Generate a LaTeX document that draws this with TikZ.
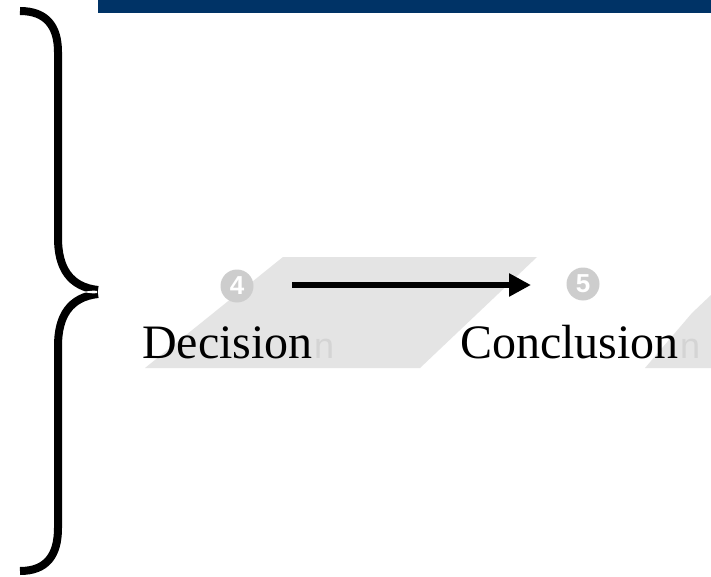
\documentclass[tikz,border=0pt]{standalone}
\usepackage{fontspec}
\setmainfont{Liberation Serif}
\newfontfamily\ghostfont{Liberation Sans}
\usetikzlibrary{arrows.meta}
\definecolor{bannerblue}{RGB}{0,51,102}
\definecolor{bandgray}{RGB}{228,228,228}
\definecolor{circgray}{RGB}{205,205,205}
\definecolor{ghostgray}{RGB}{212,212,212}
\tikzset{
  bigtext/.style={font=\fontsize{48}{56}\selectfont, inner sep=0pt, anchor=base west},
  numcirc/.style={circle, fill=circgray, minimum size=33pt, inner sep=0pt, text=white, font=\ghostfont\bfseries\fontsize{26}{26}\selectfont},
  ghost/.style={font=\ghostfont\fontsize{36}{40}\selectfont, text=ghostgray, inner sep=0pt, anchor=base west},
  bracestroke/.style={line width=8pt, line cap=butt},
  flowarrow/.style={line width=6.5pt, -{Triangle[length=22pt,width=22pt]}}
}
\begin{document}
\begin{tikzpicture}[x=1pt,y=-1pt]
\useasboundingbox (0,0) rectangle (711,577);
\fill[white] (0,0) rectangle (711,577);
% banner
\fill[bannerblue] (98,0) rectangle (711,13);
% background bands
\fill[bandgray] (145,368) -- (283,257) -- (537,257) -- (420,368) -- cycle;
\fill[bandgray] (711,295) -- (711,368) -- (645,368) -- (692,313) -- cycle;
% numbered circles
\node[numcirc] (c4) at (237,286) {4};
\node[numcirc] (c5) at (583,284) {5};
% ghost letters
\node[ghost] (g1) at (314,358) {n};
\node[ghost] (g2) at (680,358) {n};
% labels
\node[bigtext] (dec) at (142,358) {Decision};
\node[bigtext] (con) at (460,358) {Conclusion};
% arrow
\coordinate (as) at (292,285);
\coordinate (ae) at (531,285);
\draw[flowarrow] (as) -- (ae);
% brace
\draw[bracestroke] (20,11) .. controls (46,11) and (58,26) .. (58,52) -- (58,238)
  .. controls (58,268) and (70,287) .. (98,290);
\draw[bracestroke] (98,294) .. controls (70,297) and (58,316) .. (58,346) -- (58,528)
  .. controls (58,556) and (46,571) .. (20,571);
\fill[white] (84,292) .. controls (90,290.5) and (95,290.5) .. (97,291) -- (97,293) .. controls (95,293.5) and (90,293.5) .. (84,292) -- cycle;
\end{tikzpicture}
\end{document}
